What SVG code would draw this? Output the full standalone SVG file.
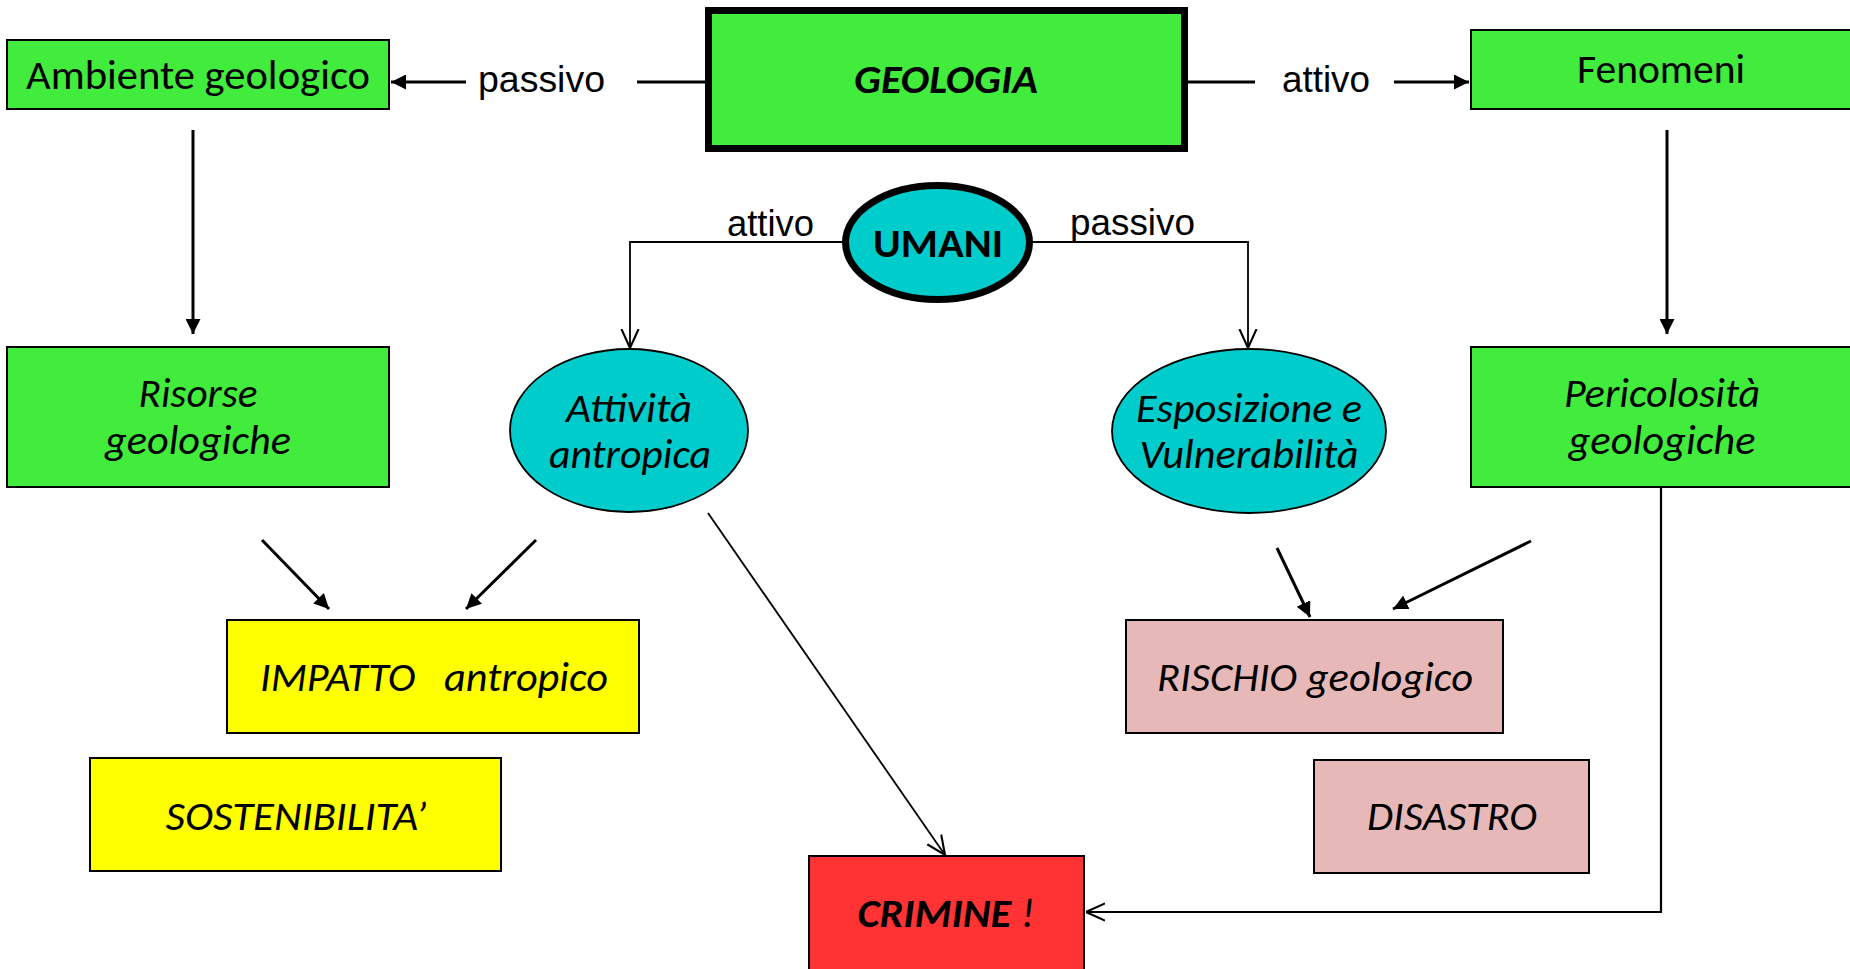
<svg xmlns="http://www.w3.org/2000/svg" width="1850" height="969" viewBox="0 0 1850 969">
<style>
.box{stroke:#000;stroke-width:2}
.g{fill:#41EC3D}
.y{fill:#FFFF00}
.p{fill:#E6B8B7}
.r{fill:#FF3333}
.c{fill:#00CCCC}
.t{font-family:Carlito,Lato,"Open Sans",sans-serif;font-size:40px;fill:#000;text-anchor:middle}
.i{font-style:italic}
.b{font-weight:bold}
.a{font-family:"Liberation Sans",Arial,sans-serif;font-size:37px;fill:#000}
.thick{stroke:#000;stroke-width:3;fill:none}
.thin{stroke:#000;stroke-width:1.8;fill:none}
</style>
<defs>
<marker id="tri" viewBox="0 0 10 10" refX="10" refY="5" markerWidth="15" markerHeight="15" markerUnits="userSpaceOnUse" orient="auto"><path d="M0,0 L10,5 L0,10 z" fill="#000"/></marker>
<marker id="vee" viewBox="0 0 10 10" refX="10" refY="5" markerWidth="19" markerHeight="22" markerUnits="userSpaceOnUse" orient="auto"><path d="M0,0.5 L10,5 L0,9.5" fill="none" stroke="#000" stroke-width="1.1"/></marker>
</defs>
<rect width="1850" height="969" fill="#fff"/>

<g id="connectors">
<line class="thick" x1="466" y1="82" x2="391" y2="82" marker-end="url(#tri)"/>
<line class="thick" x1="637" y1="82" x2="705" y2="82"/>
<line class="thick" x1="1188" y1="82" x2="1255" y2="82"/>
<line class="thick" x1="1394" y1="82" x2="1469" y2="82" marker-end="url(#tri)"/>
<line class="thick" x1="193" y1="130" x2="193" y2="334" marker-end="url(#tri)"/>
<line class="thick" x1="1667" y1="130" x2="1667" y2="334" marker-end="url(#tri)"/>
<polyline class="thin" points="842,242 630,242 630,348" marker-end="url(#vee)"/>
<polyline class="thin" points="1033,242 1248,242 1248,348" marker-end="url(#vee)"/>
<line class="thin" x1="708" y1="513" x2="945" y2="855" marker-end="url(#vee)"/>
<polyline class="thick" style="stroke-width:2.2" points="1661,487 1661,912 1086,912" marker-end="url(#vee)"/>
<line class="thick" x1="262" y1="540" x2="329" y2="609" marker-end="url(#tri)"/>
<line class="thick" x1="536" y1="540" x2="466" y2="609" marker-end="url(#tri)"/>
<line class="thick" x1="1277" y1="548" x2="1310" y2="617" marker-end="url(#tri)"/>
<line class="thick" x1="1531" y1="541" x2="1393" y2="609" marker-end="url(#tri)"/>
<text class="a" x="478" y="92" textLength="127" lengthAdjust="spacingAndGlyphs">passivo</text>
<text class="a" x="1282" y="92" textLength="88" lengthAdjust="spacingAndGlyphs">attivo</text>
<text class="a" x="727" y="236" textLength="87" lengthAdjust="spacingAndGlyphs">attivo</text>
<text class="a" x="1070" y="235" textLength="125" lengthAdjust="spacingAndGlyphs">passivo</text>
</g>

<g id="geologia">
<rect x="708.5" y="10.5" width="476" height="138" class="g" stroke="#000" stroke-width="7"/>
<text class="t i b" x="946" y="93" textLength="184" lengthAdjust="spacingAndGlyphs">GEOLOGIA</text>
</g>

<g id="ambiente">
<rect x="7" y="40" width="382" height="69" class="box g"/>
<text class="t" x="198" y="89" textLength="344" lengthAdjust="spacingAndGlyphs">Ambiente geologico</text>
</g>

<g id="fenomeni">
<rect x="1471" y="30" width="400" height="79" class="box g"/>
<text class="t" x="1661" y="83" textLength="168" lengthAdjust="spacingAndGlyphs">Fenomeni</text>
</g>

<g id="umani">
<ellipse cx="937.5" cy="242.5" rx="92" ry="57" class="c" stroke="#000" stroke-width="7"/>
<text class="t b" x="938" y="257" textLength="130" lengthAdjust="spacingAndGlyphs">UMANI</text>
</g>

<g id="risorse">
<rect x="7" y="347" width="382" height="140" class="box g"/>
<text class="t i" x="198" y="407" textLength="119" lengthAdjust="spacingAndGlyphs">Risorse</text>
<text class="t i" x="198" y="454" textLength="186" lengthAdjust="spacingAndGlyphs">geologiche</text>
</g>

<g id="attivita">
<ellipse cx="629" cy="430.5" rx="119" ry="81.5" class="c" stroke="#000" stroke-width="1.8"/>
<text class="t i" x="629" y="422" textLength="126" lengthAdjust="spacingAndGlyphs">Attività</text>
<text class="t i" x="630" y="468" textLength="162" lengthAdjust="spacingAndGlyphs">antropica</text>
</g>

<g id="esposizione">
<ellipse cx="1249" cy="431" rx="137" ry="82" class="c" stroke="#000" stroke-width="1.8"/>
<text class="t i" x="1249" y="422" textLength="226" lengthAdjust="spacingAndGlyphs">Esposizione e</text>
<text class="t i" x="1249" y="468" textLength="219" lengthAdjust="spacingAndGlyphs">Vulnerabilità</text>
</g>

<g id="pericolosita">
<rect x="1471" y="347" width="400" height="140" class="box g"/>
<text class="t i" x="1662" y="407" textLength="196" lengthAdjust="spacingAndGlyphs">Pericolosità</text>
<text class="t i" x="1662" y="454" textLength="187" lengthAdjust="spacingAndGlyphs">geologiche</text>
</g>

<g id="impatto">
<rect x="227" y="620" width="412" height="113" class="box y"/>
<text class="t i" x="434" y="691" textLength="348" lengthAdjust="spacingAndGlyphs" xml:space="preserve">IMPATTO   antropico</text>
</g>

<g id="sostenibilita">
<rect x="90" y="758" width="411" height="113" class="box y"/>
<text class="t i" x="296" y="830" textLength="261" lengthAdjust="spacingAndGlyphs">SOSTENIBILITA’</text>
</g>

<g id="rischio">
<rect x="1126" y="620" width="377" height="113" class="box p"/>
<text class="t i" x="1315" y="691" textLength="316" lengthAdjust="spacingAndGlyphs">RISCHIO geologico</text>
</g>

<g id="disastro">
<rect x="1314" y="760" width="275" height="113" class="box p"/>
<text class="t i" x="1452" y="830" textLength="170" lengthAdjust="spacingAndGlyphs">DISASTRO</text>
</g>

<g id="crimine">
<rect x="809" y="856" width="275" height="118" class="box r"/>
<text class="t i" x="946" y="927" textLength="177" lengthAdjust="spacingAndGlyphs"><tspan class="b">CRIMINE</tspan> !</text>
</g>
</svg>
